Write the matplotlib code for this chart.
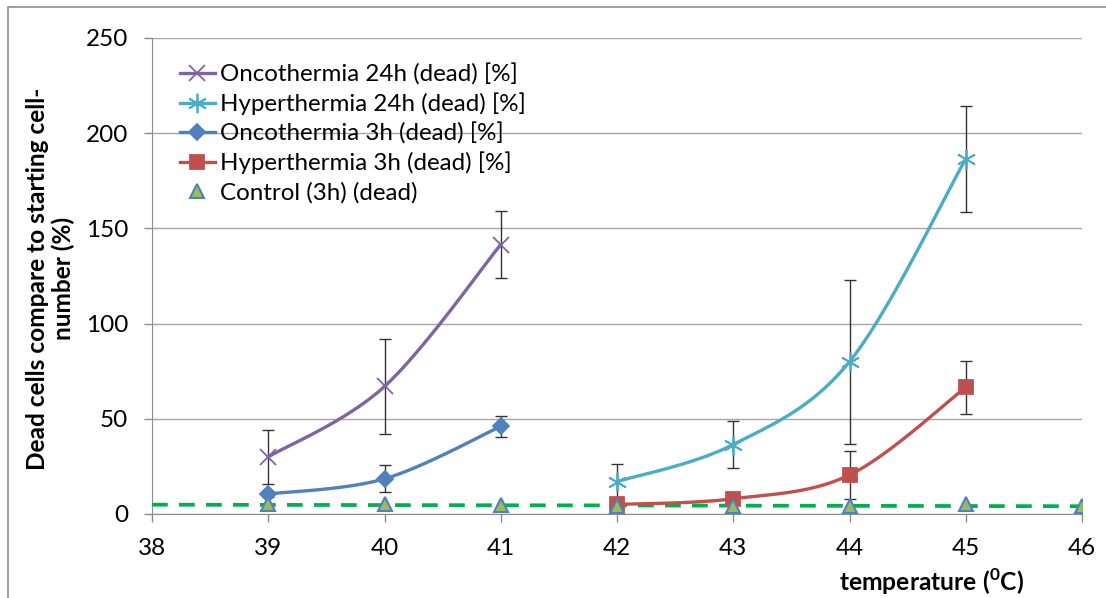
import numpy as np
import matplotlib
matplotlib.use("Agg")
import matplotlib.pyplot as plt
from matplotlib.lines import Line2D

plt.rcParams["font.family"] = ["Lato", "DejaVu Sans"]

# data
temp_onco = [39, 40, 41]
onco_24h = [30, 67, 141.5]
onco_24h_err = [14, 25, 17.5]
onco_3h = [10.5, 18.5, 46]
onco_3h_err = [1.5, 7, 5.5]

temp_hyper = [42, 43, 44, 45]
hyper_24h = [17, 36.5, 80, 186.5]
hyper_24h_err = [9, 12.5, 43, 28]
hyper_3h = [5, 8, 20.5, 66.5]
hyper_3h_err = [1, 1.5, 12.5, 14]

temp_control = [39, 40, 41, 42, 43, 44, 45, 46]
control_3h = [5, 5, 4.5, 4, 4, 4, 5, 4]


def smooth(x, y, n=40):
    """Excel-like smoothed line (Catmull-Rom as cubic Bezier)."""
    pts = np.column_stack([np.asarray(x, float), np.asarray(y, float)])
    out = []
    t = np.linspace(0, 1, n)[:, None]
    for i in range(len(pts) - 1):
        p0 = pts[i - 1] if i > 0 else pts[i]
        p1 = pts[i]
        p2 = pts[i + 1]
        p3 = pts[i + 2] if i + 2 < len(pts) else pts[i + 1]
        c1 = p1 + (p2 - p0) / 6
        c2 = p2 - (p3 - p1) / 6
        seg = (1 - t) ** 3 * p1 + 3 * (1 - t) ** 2 * t * c1 \
            + 3 * (1 - t) * t ** 2 * c2 + t ** 3 * p2
        out.append(seg)
    seg = np.vstack(out)
    return seg[:, 0], seg[:, 1]


fig = plt.figure(figsize=(11.06, 5.98), dpi=100)
ax = fig.add_axes([152 / 1106, 1 - 514 / 598, 930 / 1106, 476 / 598])

# figure border (only top and left are inside the picture)
fig.add_artist(plt.Rectangle((8 / 1106, -0.1), 1.2, 1 - 7 / 598 + 0.1,
                             transform=fig.transFigure, fill=False,
                             edgecolor="#8c8c8c", lw=1.2))

PURPLE = "#8064A2"
CYAN = "#4BACC6"
BLUE = "#4F81BD"
RED = "#C0504D"
GREEN = "#9BBB59"
DASH = "#00B050"

err_kw = dict(fmt="none", ecolor="#333333", elinewidth=1, capsize=4, capthick=1, zorder=3)

ax.errorbar(temp_onco, onco_24h, yerr=onco_24h_err, **err_kw)
ax.errorbar(temp_onco, onco_3h, yerr=onco_3h_err, **err_kw)
ax.errorbar(temp_hyper, hyper_24h, yerr=hyper_24h_err, **err_kw)
ax.errorbar(temp_hyper, hyper_3h, yerr=hyper_3h_err, **err_kw)

# linear trendline of the control series
coef = np.polyfit(temp_control, control_3h, 1)
xt = np.array([38, 46])
ax.plot(xt, np.polyval(coef, xt), color=DASH, lw=2.7, ls=(0, (4.2, 3)), zorder=4)

asterisk = (6, 2, 0)

series = [
    (temp_onco, onco_24h, PURPLE, "x", 11, "Oncothermia 24h (dead) [%]"),
    (temp_hyper, hyper_24h, CYAN, asterisk, 14, "Hyperthermia 24h (dead) [%]"),
    (temp_onco, onco_3h, BLUE, "D", 8.5, "Oncothermia 3h (dead) [%]"),
    (temp_hyper, hyper_3h, RED, "s", 10, "Hyperthermia 3h (dead) [%]"),
]
handles = []
for x, y, c, m, ms, lab in series:
    sx, sy = smooth(x, y)
    ax.plot(sx, sy, color=c, lw=2.4, zorder=5, solid_capstyle="round")
    ax.plot(x, y, ls="none", marker=m, ms=ms, color=c, mec=c, mew=1.3, zorder=6)
    handles.append(Line2D([0], [0], color=c, lw=2.4, marker=m, ms=ms, mec=c,
                          mew=1.3, label=lab))

ax.plot(temp_control, control_3h, ls="none", marker="^", ms=10, mfc=GREEN,
        mec=BLUE, mew=1.5, zorder=7)
handles.append(Line2D([0], [0], ls="none", marker="^", ms=10, mfc=GREEN, mec=BLUE,
                      mew=1.5, label="Control (3h) (dead)"))

ax.set_xlim(38, 46)
ax.set_ylim(0, 250)
ax.set_xticks(range(38, 47))
ax.set_yticks(range(0, 251, 50))
ax.yaxis.grid(True, color="#a6a6a6", lw=1)
ax.set_axisbelow(True)
for s in ["top", "right"]:
    ax.spines[s].set_visible(False)
for s in ["left", "bottom"]:
    ax.spines[s].set_color("#8c8c8c")
ax.tick_params(axis="both", colors="#8c8c8c", labelcolor="black", labelsize=17.5,
               length=6, width=1)
ax.tick_params(axis="x", pad=11)
ax.tick_params(axis="y", pad=11)

ax.set_ylabel("Dead cells compare to starting cell-\nnumber (%)", fontsize=17.6,
              fontweight="bold", linespacing=1.1)
ax.yaxis.set_label_coords(-0.083, 0.494)
ax.set_xlabel(r"temperature ($^\mathregular{0}$C)", fontsize=17.7, fontweight="bold")
ax.xaxis.set_label_coords(0.838, -0.11)

ax.legend(handles=handles, loc="upper left", bbox_to_anchor=(0.03, 0.947), frameon=False,
          fontsize=17.4, handlelength=1.45, handletextpad=0.2, labelspacing=0.3,
          borderaxespad=0, borderpad=0)

fig.savefig("out.png", dpi=100)
